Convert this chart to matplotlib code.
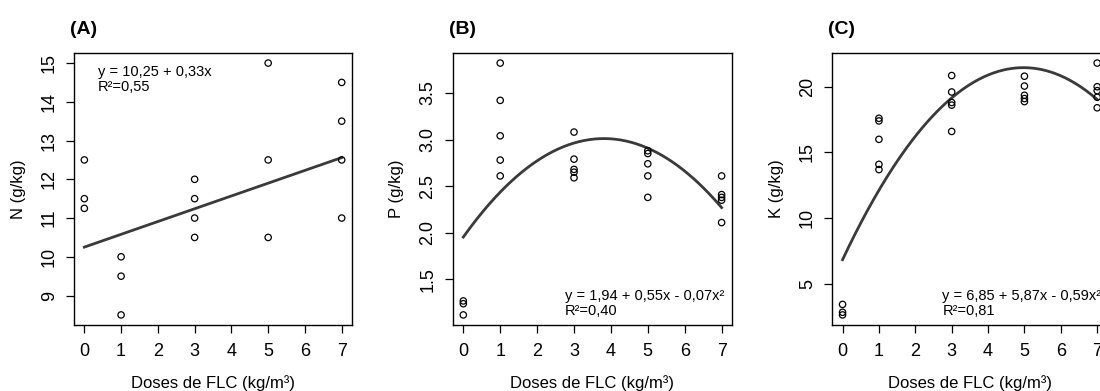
import numpy as np
import matplotlib
matplotlib.use("Agg")
import matplotlib.pyplot as plt

plt.rcParams['font.family'] = ['Liberation Sans', 'DejaVu Sans']

# doses (kg/m3)
dose_n = [0, 0, 0, 1, 1, 1, 3, 3, 3, 3, 5, 5, 5, 7, 7, 7, 7]
n_vals = [12.5, 11.5, 11.25, 10.0, 9.5, 8.5, 12.0, 11.5, 11.0, 10.5,
          15.0, 12.5, 10.5, 14.5, 13.5, 12.5, 11.0]

dose_p = [0, 0, 0, 1, 1, 1, 1, 1, 3, 3, 3, 3, 3, 5, 5, 5, 5, 5, 7, 7, 7, 7, 7]
p_vals = [1.27, 1.24, 1.12, 3.82, 3.42, 3.04, 2.78, 2.61, 3.08, 2.79, 2.68, 2.65, 2.59,
          2.88, 2.85, 2.74, 2.61, 2.38, 2.61, 2.41, 2.38, 2.35, 2.11]

dose_k = [0, 0, 0, 1, 1, 1, 1, 1, 3, 3, 3, 3, 3, 5, 5, 5, 5, 5, 7, 7, 7, 7, 7]
k_vals = [3.45, 2.85, 2.65, 17.6, 17.4, 16.0, 14.1, 13.7, 20.85, 19.6, 18.8, 18.6, 16.6,
          20.8, 20.05, 19.35, 19.1, 18.87, 21.8, 20.0, 19.7, 19.2, 18.4]

# fitted coefficients (b0, b1, b2)
coef_n = [10.25, 0.33, 0.0]
coef_p = [1.955, 0.554, -0.0727]
coef_k = [6.85, 5.87, -0.59]

eq_n = ["y = 10,25 + 0,33x", "R²=0,55"]
eq_p = ["y = 1,94 + 0,55x - 0,07x²", "R²=0,40"]
eq_k = ["y = 6,85 + 5,87x - 0,59x²", "R²=0,81"]

xticks = [0, 1, 2, 3, 4, 5, 6, 7]


def r_lim(vals):
    # R style axis range: data range plus 4% on each side
    lo, hi = min(vals), max(vals)
    d = (hi - lo) * 0.04
    return lo - d, hi + d


fig = plt.figure(figsize=(11, 3.91), dpi=100)

panels = [
    ("(A)", "N (g/kg)", dose_n, n_vals, coef_n, eq_n, [9, 10, 11, 12, 13, 14, 15], "%d",
     0.0673, 0.2527, "top"),
    ("(B)", "P (g/kg)", dose_p, p_vals, coef_p, eq_p, [1.5, 2.0, 2.5, 3.0, 3.5], "%.1f",
     0.4118, 0.2536, "bottom"),
    ("(C)", "K (g/kg)", dose_k, k_vals, coef_k, eq_k, [5, 10, 15, 20], "%d",
     0.7567, 0.2500, "bottom"),
]

for tag, ylab, xs, ys, coef, eq, yt, fmt, left, width, eqpos in panels:
    ax = fig.add_axes([left, 0.1688, width, 0.6957])
    ax.scatter(xs, ys, s=21, facecolors="none", edgecolors="black", linewidths=0.9, zorder=3)
    xx = np.linspace(0, 7, 200)
    yy = coef[0] + coef[1] * xx + coef[2] * xx ** 2
    ax.plot(xx, yy, color="#3a3a3a", lw=2)
    ax.set_xlim(r_lim(xs))
    ax.set_ylim(r_lim(ys))

    ax.set_xticks(xticks)
    ax.set_yticks(yt)
    ax.set_yticklabels([fmt % v for v in yt], rotation=90, va="center")
    ax.tick_params(direction="out", length=5.8, width=0.9, labelsize=13, pad=7)
    ax.tick_params(axis="y", pad=6)
    for sp in ax.spines.values():
        sp.set_linewidth(1.0)

    ax.set_xlabel("Doses de FLC (kg/m³)", fontsize=12, va="center")
    ax.xaxis.set_label_coords(0.5, -0.212)
    ax.set_ylabel(ylab, fontsize=12, va="center")
    ax.yaxis.set_label_coords(-56.0 / (width * 1100), 0.5)

    if eqpos == "top":
        ax.text(0.086, 0.93, eq[0], transform=ax.transAxes, fontsize=10.5, va="center")
        ax.text(0.086, 0.875, eq[1], transform=ax.transAxes, fontsize=10.5, va="center")
    else:
        ax.text(0.40, 0.108, eq[0], transform=ax.transAxes, fontsize=10.5, va="center")
        ax.text(0.40, 0.051, eq[1], transform=ax.transAxes, fontsize=10.5, va="center")

    fig.text(left - 0.004, 1 - 29.0 / 391, tag, fontsize=14, fontweight="bold", va="center")

fig.savefig("out.png", dpi=100)
